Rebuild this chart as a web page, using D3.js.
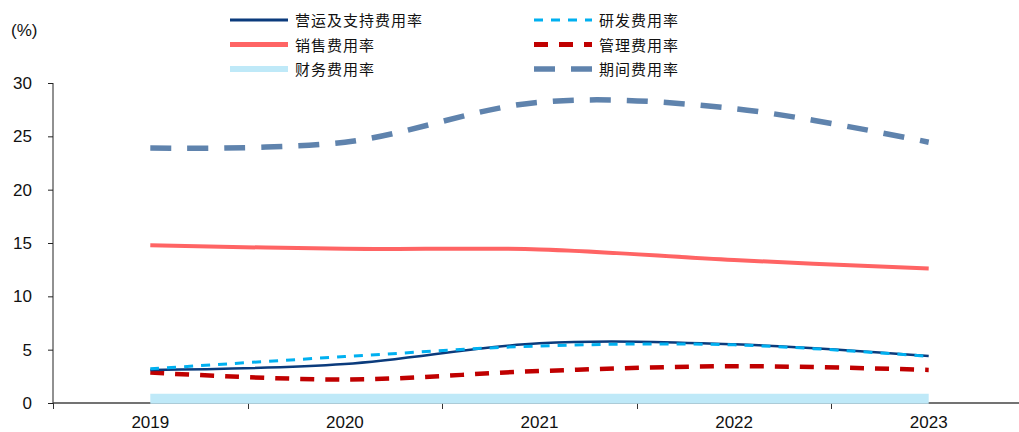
<!DOCTYPE html>
<html>
<head>
<meta charset="utf-8">
<script src="https://cdn.jsdelivr.net/npm/d3@7"></script>
<style>
  html, body { margin: 0; padding: 0; background: #fff; }
  svg { display: block; }
</style>
</head>
<body>
<svg id="chart" width="1019" height="432"></svg>
<script>
// Expense ratios by year (%)
const years = ["2019", "2020", "2021", "2022", "2023"];
const opsSupport = [3.1, 3.65, 5.6, 5.5, 4.4];   // 营运及支持费用率
const rnd        = [3.2, 4.35, 5.35, 5.45, 4.37]; // 研发费用率
const selling    = [14.8, 14.45, 14.4, 13.4, 12.6]; // 销售费用率
const admin      = [2.85, 2.2, 3.0, 3.45, 3.1];   // 管理费用率
const finance    = [0.4, 0.4, 0.4, 0.4, 0.4];     // 财务费用率
const period     = [23.9, 24.45, 28.2, 27.6, 24.45]; // 期间费用率
const yTicks = [0, 5, 10, 15, 20, 25, 30];

const series = [
  { name: "期间费用率",       values: period,     color: "#5f83ad", width: 5.5, dash: "21,16", legendWidth: 5.5 },
  { name: "销售费用率",       values: selling,    color: "#ff6464", width: 4,   dash: null,    legendWidth: 5 },
  { name: "管理费用率",       values: admin,      color: "#c00000", width: 4.5, dash: "14,11", legendWidth: 5 },
  { name: "营运及支持费用率", values: opsSupport, color: "#0b3b7c", width: 2.5, dash: null,    legendWidth: 3 },
  { name: "研发费用率",       values: rnd,        color: "#00b0f0", width: 3,   dash: "9,8",   legendWidth: 3 },
  { name: "财务费用率",       values: finance,    color: "#bfe9f8", width: 10,  dash: null,    legendWidth: 6 }
];

const svg = d3.select("#chart");
const x = d3.scaleBand().domain(years).range([53, 1026]);
const y = d3.scaleLinear().domain([0, 30]).range([403, 83]);
const font = "'Liberation Sans', Arial, sans-serif";
const fs = 17;

// Y axis
const yAxis = svg.append("g").attr("transform", "translate(53,0)")
  .call(d3.axisLeft(y).tickValues(yTicks).tickSize(5).tickPadding(6));
yAxis.select(".domain").attr("stroke", "#222").attr("d", `M0,${y(30)}V${y(0)}`);
yAxis.selectAll(".tick line").attr("stroke", "#222");
yAxis.selectAll(".tick text").attr("font-family", font).attr("font-size", fs).attr("fill", "#111")
  .attr("x", -21);

svg.append("text").attr("x", 11).attr("y", 36).attr("font-family", font)
  .attr("font-size", fs).attr("fill", "#111").text("(%)");

// X axis: baseline, category boundary ticks, labels
const g0 = svg.append("g");
g0.append("line").attr("x1", 53).attr("x2", 1019).attr("y1", y(0)).attr("y2", y(0))
  .attr("stroke", "#444").attr("stroke-width", 1.5);
const bounds = years.map(d => x(d)).concat([x.range()[1]]);
g0.selectAll("line.bt").data(bounds).enter().append("line").attr("class", "bt")
  .attr("x1", d => Math.round(d) + 0.5).attr("x2", d => Math.round(d) + 0.5)
  .attr("y1", y(0)).attr("y2", y(0) + 6).attr("stroke", "#333");
g0.selectAll("text").data(years).enter().append("text")
  .attr("x", d => x(d) + x.bandwidth() / 2).attr("y", 428)
  .attr("text-anchor", "middle").attr("font-family", font).attr("font-size", fs)
  .attr("fill", "#111").text(d => d);

// Lines
const line = d3.line()
  .x((d, i) => x(years[i]) + x.bandwidth() / 2)
  .y(d => y(d))
  .curve(d3.curveCardinal.tension(0));

svg.append("g").selectAll("path").data(series).enter().append("path")
  .attr("d", s => line(s.values))
  .attr("fill", "none")
  .attr("stroke", s => s.color)
  .attr("stroke-width", s => s.width)
  .attr("stroke-dasharray", s => s.dash);

// Legend: two columns, three rows; glyphs set on a 16px pitch
const legendOrder = [
  { name: "营运及支持费用率", col: 0, row: 0 },
  { name: "销售费用率",       col: 0, row: 1 },
  { name: "财务费用率",       col: 0, row: 2 },
  { name: "研发费用率",       col: 1, row: 0 },
  { name: "管理费用率",       col: 1, row: 1 },
  { name: "期间费用率",       col: 1, row: 2 }
];
const colX = [230, 534];
const rowY = [20, 44.5, 69];
const legend = svg.append("g");
legendOrder.forEach(item => {
  const s = series.find(d => d.name === item.name);
  const gx = colX[item.col], gy = rowY[item.row];
  legend.append("line").attr("x1", gx).attr("x2", gx + 58).attr("y1", gy).attr("y2", gy)
    .attr("stroke", s.color)
    .attr("stroke-width", s.legendWidth)
    .attr("stroke-dasharray", s.dash);
  const t = legend.append("text").attr("y", gy + 6)
    .attr("font-family", "'Noto Sans CJK SC', sans-serif").attr("font-size", 15)
    .attr("fill", "#111");
  Array.from(s.name).forEach((ch, i) => {
    t.append("tspan").attr("x", gx + 65 + i * 16).text(ch);
  });
});
</script>
</body>
</html>
